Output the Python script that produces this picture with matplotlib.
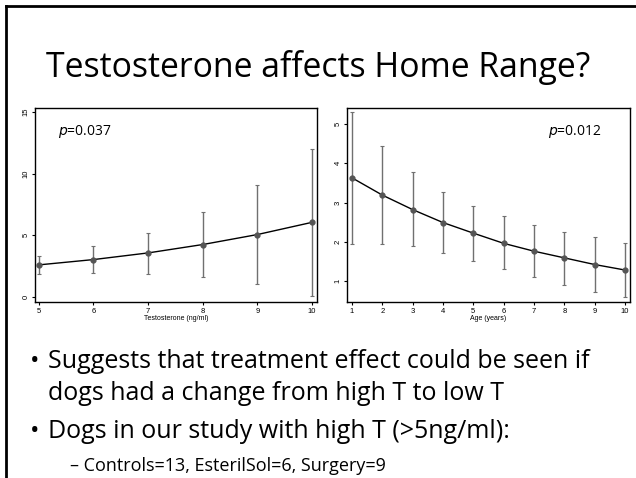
import matplotlib
matplotlib.use("Agg")
import matplotlib.pyplot as plt
from matplotlib.lines import Line2D

# left panel: home range vs testosterone
t_x = [5, 6, 7, 8, 9, 10]
t_y = [2.6, 3.03, 3.57, 4.25, 5.06, 6.05]
t_hi = [3.35, 4.1, 5.2, 6.85, 9.05, 12.0]
t_lo = [1.84, 1.95, 1.9, 1.62, 1.08, 0.1]

# right panel: home range vs age
a_x = [1, 2, 3, 4, 5, 6, 7, 8, 9, 10]
a_y = [3.63, 3.19, 2.82, 2.49, 2.22, 1.96, 1.76, 1.59, 1.42, 1.28]
a_hi = [5.30, 4.43, 3.77, 3.28, 2.91, 2.65, 2.44, 2.26, 2.12, 1.96]
a_lo = [1.95, 1.95, 1.88, 1.72, 1.51, 1.30, 1.09, 0.90, 0.72, 0.58]

W, H = 636, 478
fig = plt.figure(figsize=(W / 100, H / 100), dpi=100)
fig.patch.set_facecolor("white")

# slide frame (top and left edge)
fig.add_artist(Line2D([6 / W, 1], [1 - 6 / H, 1 - 6 / H], color="black", lw=2))
fig.add_artist(Line2D([6 / W, 6 / W], [0, 1 - 6 / H], color="black", lw=2))

fig.text(318 / W, 1 - 67 / H, "Testosterone affects Home Range?",
         ha="center", va="center", fontsize=24.3, family="Open Sans")


def panel(rect, x, y, lo, hi, xlim, ylim, yticks, xlabel, ptxt, px, pha):
    ax = fig.add_axes(rect)
    yerr = [[v - l for v, l in zip(y, lo)], [h - v for v, h in zip(y, hi)]]
    ax.errorbar(x, y, yerr=yerr, fmt="none", ecolor="#707070", elinewidth=1,
                capsize=1.5, capthick=0.8)
    ax.plot(x, y, color="black", lw=1)
    ax.plot(x, y, "o", color="#555555", ms=3.5)
    ax.set_xlim(xlim)
    ax.set_ylim(ylim)
    ax.set_xticks(x)
    ax.set_yticks(yticks)
    ax.tick_params(labelsize=5.5, length=2.5, width=0.8, pad=1.5)
    for lab in ax.get_yticklabels():
        lab.set_rotation(90)
        lab.set_va("center")
    for lab in ax.get_xticklabels() + ax.get_yticklabels():
        lab.set_family("Liberation Sans")
    ax.set_xlabel(xlabel, fontsize=5, family="Liberation Sans", labelpad=0)
    for s in ax.spines.values():
        s.set_linewidth(1)
    ax.text(px, 0.88, ptxt, transform=ax.transAxes, ha=pha, va="center",
            fontsize=10, family="Open Sans")
    return ax


panel([35 / W, 1 - 302 / H, 282 / W, 194 / H], t_x, t_y, t_lo, t_hi,
      (4.93, 10.09), (-0.41, 15.32), [0, 5, 10, 15],
      "Testosterone (ng/ml)", "$\\it{p}$=0.037", 0.08, "left")
panel([347 / W, 1 - 302 / H, 283 / W, 194 / H], a_x, a_y, a_lo, a_hi,
      (0.835, 10.165), (0.465, 5.41), [1, 2, 3, 4, 5],
      "Age (years)", "$\\it{p}$=0.012", 0.90, "right")

fs = 18
fig.text(30 / W, 1 - 362 / H, "•", fontsize=fs, va="center", family="Open Sans")
fig.text(48 / W, 1 - 362 / H, "Suggests that treatment effect could be seen if",
         fontsize=fs, va="center", family="Open Sans")
fig.text(48 / W, 1 - 393 / H, "dogs had a change from high T to low T",
         fontsize=fs, va="center", family="Open Sans")
fig.text(30 / W, 1 - 432 / H, "•", fontsize=fs, va="center", family="Open Sans")
fig.text(48 / W, 1 - 432 / H, "Dogs in our study with high T (>5ng/ml):",
         fontsize=fs, va="center", family="Open Sans")
fig.text(70 / W, 1 - 466 / H, "– Controls=13, EsterilSol=6, Surgery=9",
         fontsize=13, va="center", family="Open Sans")

fig.savefig("out.png", dpi=100)
